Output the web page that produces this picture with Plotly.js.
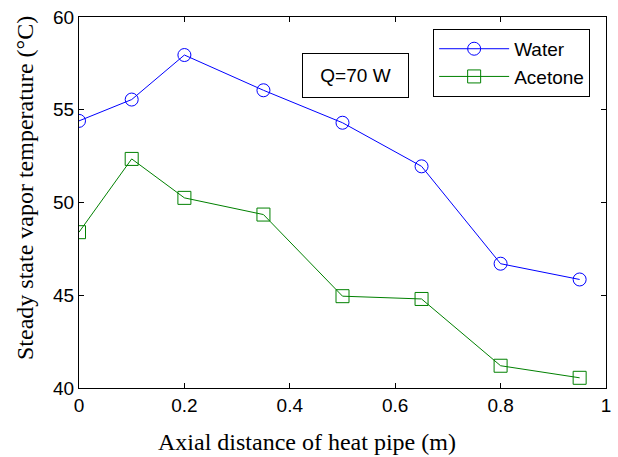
<!DOCTYPE html>
<html>
<head>
<meta charset="utf-8">
<script src="https://cdn.plot.ly/plotly-3.0.1.min.js"></script>
<style>html,body{margin:0;padding:0;background:#fff;}#chart{width:618px;height:457px;}</style>
</head>
<body>
<div id="chart"></div>
<script>
const xDist = [0, 0.1, 0.2, 0.35, 0.5, 0.65, 0.8, 0.95];
const water = [54.4, 55.55, 57.95, 56.05, 54.3, 51.95, 46.7, 45.85];
const acetone = [48.4, 52.35, 50.25, 49.35, 44.95, 44.8, 41.2, 40.55];
const seriesNames = ["Water", "Acetone"];
const xTicks = [0, 0.2, 0.4, 0.6, 0.8, 1];
const xTickText = ["0", "0.2", "0.4", "0.6", "0.8", "1"];
const yTicks = [40, 45, 50, 55, 60];
const yTickText = ["40", "45", "50", "55", "60"];
const xTitle = "Axial distance of heat pipe (m)";
const yTitle = "Steady state vapor temperature (°C)";

const traces = [
  {x: xDist, y: water, name: seriesNames[0], mode: "lines+markers", type: "scatter",
   line: {color: "#0000ff", width: 1},
   marker: {symbol: "circle-open", size: 13, color: "#0000ff", line: {width: 1, color: "#0000ff"}}},
  {x: xDist, y: acetone, name: seriesNames[1], mode: "lines+markers", type: "scatter",
   line: {color: "#008000", width: 1},
   marker: {symbol: "square-open", size: 13, color: "#008000", line: {width: 1, color: "#008000"}}}
];

const axisCommon = {
  showgrid: false, zeroline: false, showline: true, linecolor: "#000", linewidth: 1,
  mirror: "ticks", ticks: "inside", ticklen: 5, tickcolor: "#000",
  tickfont: {family: "Liberation Sans, Arial", size: 19, color: "#000"}
};
const titleFont = {family: "Liberation Serif, Times New Roman", size: 24, color: "#000"};

const layout = {
  width: 618, height: 457,
  margin: {l: 79, r: 12, t: 17, b: 69},
  paper_bgcolor: "#fff", plot_bgcolor: "#fff",
  showlegend: true,
  xaxis: Object.assign({}, axisCommon, {range: [0, 1], tickvals: xTicks, ticktext: xTickText}),
  yaxis: Object.assign({}, axisCommon, {range: [40, 60], tickvals: yTicks, ticktext: yTickText}),
  legend: {
    x: 0.672, y: 0.968, xanchor: "left", yanchor: "top",
    bgcolor: "#fff", bordercolor: "#000", borderwidth: 1,
    font: {family: "Liberation Sans, Arial", size: 19, color: "#000"},
    tracegroupgap: 0, itemwidth: 70
  },
  annotations: [
    {xref: "paper", yref: "paper", x: 0.525, y: 0.842, xanchor: "center", yanchor: "middle",
     text: "Q=70 W", showarrow: false, width: 103, height: 41,
     font: {family: "Liberation Sans, Arial", size: 19, color: "#000"},
     bordercolor: "#000", borderwidth: 1, borderpad: 1, bgcolor: "#fff"},
    {xref: "paper", yref: "paper", x: (307 - 79) / 527, y: 0, yshift: -69, xanchor: "center", yanchor: "bottom",
     text: xTitle, showarrow: false, font: titleFont},
    {xref: "paper", yref: "paper", x: 0, xshift: -54, y: (388 - 188) / 371, xanchor: "center", yanchor: "middle",
     text: yTitle, showarrow: false, textangle: -90, font: titleFont}
  ]
};

Plotly.newPlot("chart", traces, layout, {displayModeBar: false, staticPlot: true});
</script>
</body>
</html>
